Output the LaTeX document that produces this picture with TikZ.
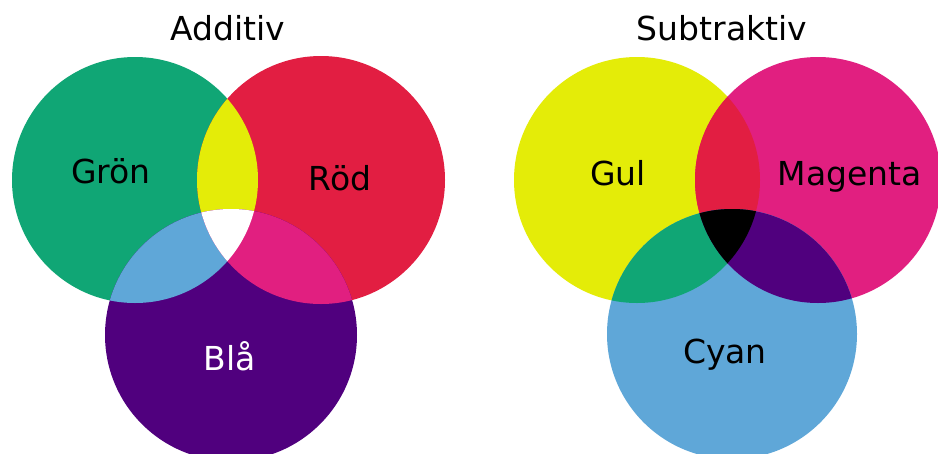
\documentclass[tikz,border=0pt]{standalone}
\usepackage{fontspec}
\setmainfont{DejaVu Sans}
\usetikzlibrary{positioning}
\definecolor{vdGreen}{HTML}{10A675}
\definecolor{vdRed}{HTML}{E21E42}
\definecolor{vdBlue}{HTML}{50007E}
\definecolor{vdYellow}{HTML}{E4EC08}
\definecolor{vdCyan}{HTML}{5FA7D8}
\definecolor{vdMagenta}{HTML}{E11F80}
\tikzset{
  heading/.style={anchor=base, inner sep=0pt, font=\fontsize{33}{38}\selectfont},
  colname/.style={anchor=base, inner sep=0pt, font=\fontsize{33}{38}\selectfont}
}
% circles, in pixel units
\def\gronC{(135,180) circle[radius=123pt]}
\def\rodC{(321,180) circle[radius=124pt]}
\def\blaC{(231,335) circle[radius=126pt]}
\def\gulC{(637,180) circle[radius=123pt]}
\def\magC{(818,180) circle[radius=123pt]}
\def\cyanC{(732,334) circle[radius=125pt]}

\begin{document}
\begin{tikzpicture}[x=1pt, y=-1pt]
\useasboundingbox (0,0) rectangle (938,453);
\fill[white] (0,0) rectangle (938,453);
\begin{scope}
\clip (0,0) rectangle (938,453);

% additiv
\fill[vdGreen] \gronC;
\fill[vdRed] \rodC;
\fill[vdBlue] \blaC;
\begin{scope}
  \clip \gronC;
  \fill[vdYellow] \rodC;
  \fill[vdCyan] \blaC;
\end{scope}
\begin{scope}
  \clip \rodC;
  \fill[vdMagenta] \blaC;
  \clip \gronC;
  \fill[white] \blaC;
\end{scope}

% subtraktiv
\fill[vdYellow] \gulC;
\fill[vdMagenta] \magC;
\fill[vdCyan] \cyanC;
\begin{scope}
  \clip \gulC;
  \fill[vdRed] \magC;
  \fill[vdGreen] \cyanC;
\end{scope}
\begin{scope}
  \clip \magC;
  \fill[vdBlue] \cyanC;
  \clip \gulC;
  \fill[black] \cyanC;
\end{scope}
\end{scope}

\node[heading] (additiv) at (228,40) {Additiv};
\node[heading] (subtraktiv) at (722,40) {Subtraktiv};

\node[colname] (gron) at (111,183) {Grön};
\node[colname] (rod) at (340,190) {Röd};
\node[colname, text=white] (bla) at (230,370) {Blå};

\node[colname] (gul) at (618,185) {Gul};
\node[colname] (magenta) at (850,185) {Magenta};
\node[colname] (cyan) at (725,363) {Cyan};
\end{tikzpicture}
\end{document}
